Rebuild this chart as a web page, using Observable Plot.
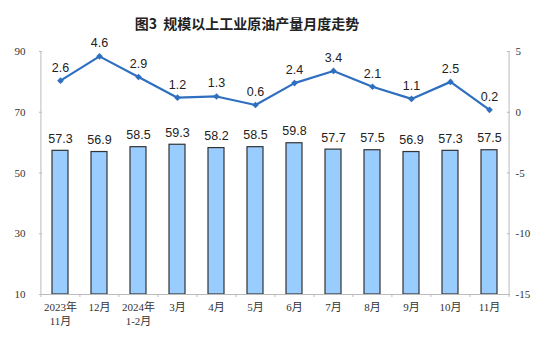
<!DOCTYPE html>
<html>
<head>
<meta charset="utf-8">
<script src="https://cdn.jsdelivr.net/npm/d3@7"></script>
<script src="https://cdn.jsdelivr.net/npm/@observablehq/plot@0.6"></script>
<style>
body { margin: 0; background: #fff; font-family: "Liberation Sans", "Noto Sans CJK SC", sans-serif; position: relative; }
#title { height: 40px; width: 550px; box-sizing: border-box; padding-top: 13px; padding-right: 56px; text-align: center; font-family: "Noto Sans CJK SC", sans-serif; font-weight: bold; font-size: 14px; color: #222; line-height: 20px; }
#chart svg { overflow: visible; }
#legend { position: absolute; left: 0; top: 330px; width: 550px; height: 20px; font-family: "Noto Sans CJK SC", sans-serif; font-size: 12px; color: #222; }
.item { position: absolute; top: 0; display: flex; align-items: center; }
</style>
</head>
<body>
<div id="title">图3&nbsp;&nbsp;规模以上工业原油产量月度走势</div>
<div id="chart"></div>
<div id="legend">
  <div class="item" style="left:113px"><svg width="25" height="16"><rect x="0.75" y="5" width="23.5" height="6" fill="#99CCFF" stroke="#333" stroke-width="1.5"/></svg><span style="margin-left:3px">日均产量（万吨）</span></div>
  <div class="item" style="left:298px"><svg width="25" height="16"><line x1="0" x2="25" y1="8" y2="8" stroke="#2E6FC0" stroke-width="2"/><path d="M12.5,5.5L15,8L12.5,10.5L10,8Z" fill="#2E6FC0"/></svg><span style="margin-left:3px">当月增速（%）</span></div>
</div>
<script>
const months = ["2023年\n11月","12月","2024年\n1-2月","3月","4月","5月","6月","7月","8月","9月","10月","11月"];
const output = [57.3,56.9,58.5,59.3,58.2,58.5,59.8,57.7,57.5,56.9,57.3,57.5];
const growth = [2.6,4.6,2.9,1.2,1.3,0.6,2.4,3.4,2.1,1.1,2.5,0.2];
const leftTicks = [10,30,50,70,90];

const toLeft = g => 10 + (g + 15) * 4;
const toRight = v => (v - 10) / 4 - 15;

const data = months.map((m, i) => ({m, v: output[i], g: growth[i], gl: toLeft(growth[i])}));
const lineColor = "#2E6FC0";
const step = 470 / 12;

const chart = Plot.plot({
  width: 550,
  height: 290,
  marginLeft: 39,
  marginRight: 41,
  marginTop: 11,
  marginBottom: 36,
  style: {fontFamily: "'Liberation Serif', 'Noto Sans CJK SC', serif", fontSize: "11px", color: "#333", background: "#fff", overflow: "visible"},
  x: {domain: months, paddingInner: 0.59, paddingOuter: 0.295, label: null},
  y: {domain: [10, 90], label: null},
  marks: [
    Plot.barY(data, {x: "m", y1: 10, y2: "v", fill: "#99CCFF", stroke: "#333", strokeWidth: 1.2}),
    Plot.ruleY([10], {stroke: "#bbb"}),
    Plot.ruleX([months[0]], {x: d => d, dx: -step / 2, y1: 10, y2: 90, stroke: "#bbb"}),
    Plot.ruleX([months[11]], {x: d => d, dx: step / 2, y1: 10, y2: 90, stroke: "#bbb"}),
    Plot.ruleX(months, {x: d => d, dx: -step / 2, y1: 9, y2: 10, stroke: "#bbb"}),
    Plot.ruleX([months[11]], {x: d => d, dx: step / 2, y1: 9, y2: 10, stroke: "#bbb"}),
    Plot.axisY({anchor: "left", ticks: leftTicks, tickSize: -3, tickPadding: 17, stroke: "#bbb", fontSize: 11, fill: "#333", label: null}),
    Plot.axisY({anchor: "right", ticks: leftTicks, tickSize: -3, tickPadding: 9, tickFormat: d => String(toRight(d)), textAnchor: "start", stroke: "#bbb", fontSize: 11, fill: "#333", label: null}),
    Plot.axisX({tickSize: 0, tickPadding: 6, fontSize: 11, lineHeight: 1.3, fill: "#333", label: null}),
    Plot.text(data, {x: "m", y: "v", text: d => d.v.toFixed(1), dy: -12, fontSize: 12.5, fill: "#222", fontFamily: "'Liberation Sans', sans-serif"}),
    Plot.line(data, {x: "m", y: "gl", stroke: lineColor, strokeWidth: 2.2}),
    Plot.dot(data, {x: "m", y: "gl", symbol: "diamond2", r: 3, fill: lineColor, stroke: null}),
    Plot.text(data, {x: "m", y: "gl", text: d => d.g.toFixed(1), dy: -13, fontSize: 12.5, fill: "#222", fontFamily: "'Liberation Sans', sans-serif"})
  ]
});
document.getElementById("chart").appendChild(chart);
</script>
</body>
</html>
